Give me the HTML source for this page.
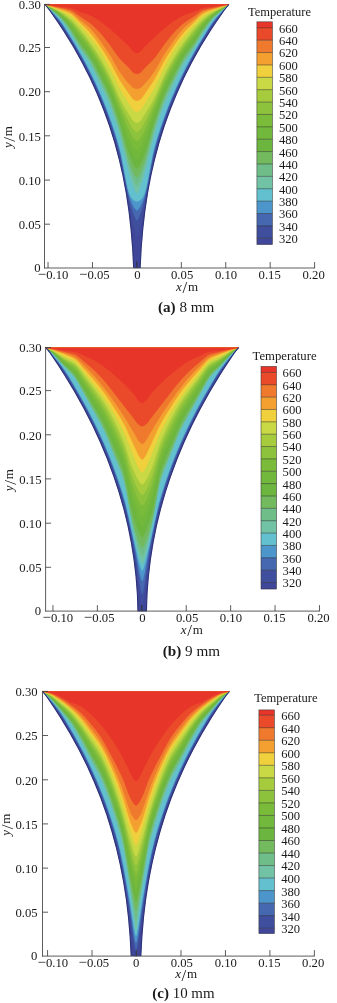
<!DOCTYPE html>
<html lang="en">
<head>
<meta charset="utf-8">
<title>Temperature contours</title>
<style>
html,body{margin:0;padding:0;background:#fff;}
body{width:337px;height:1003px;overflow:hidden;}
svg{display:block;}
svg text{font-family:'Liberation Serif', 'DejaVu Serif', serif;fill:#1a1a1a;}
</style>
</head>
<body>
<svg width="337" height="1003" viewBox="0 0 337 1003">
<rect width="337" height="1003" fill="#ffffff"/>
<g>
<path fill="#40479a" stroke="#40479a" stroke-width="0.3" d="M45.0 4.5L47.9 8.0L50.2 11.0L57.5 21.5L63.8 31.0L73.4 46.5L82.3 62.5L90.2 78.0L97.2 93.5L103.7 109.5L109.5 125.5L114.7 142.0L119.1 158.5L123.0 175.5L126.3 193.0L129.0 211.0L131.1 229.5L132.7 248.5L133.7 268.0L140.1 268.0L141.2 247.0L142.9 227.0L145.3 207.5L148.3 188.5L152.0 170.0L156.4 152.0L161.4 134.5L164.3 125.5L167.3 117.0L173.0 102.0L179.5 87.0L186.3 72.5L193.9 58.0L202.2 43.5L211.3 29.0L217.0 20.5L223.6 11.0L225.9 8.0L228.8 4.5Z"/>
<path fill="#3f4f9e" stroke="#3f4f9e" stroke-width="0.3" d="M45.0 4.5L48.5 8.5L58.0 20.6L61.0 24.7L67.0 33.9L76.0 48.8L84.0 63.2L91.0 77.1L97.5 91.1L103.5 105.6L108.0 117.5L112.5 130.7L116.0 142.0L119.0 152.9L120.5 159.0L122.0 166.0L128.5 201.2L132.9 222.6L135.1 231.6L136.3 235.1L136.7 235.9L136.9 236.0L137.1 235.9L137.5 235.1L138.7 231.6L140.9 222.6L145.3 201.2L151.8 166.0L153.3 159.0L154.8 152.9L157.8 142.0L161.3 130.7L165.8 117.5L170.3 105.6L176.3 91.1L182.8 77.1L189.8 63.2L197.8 48.8L206.8 33.9L212.8 24.7L215.8 20.6L225.3 8.5L228.8 4.5Z"/>
<path fill="#4568b0" stroke="#4568b0" stroke-width="0.3" d="M45.0 4.5L48.5 8.3L60.0 21.9L64.5 28.5L72.0 40.6L79.5 53.3L87.0 67.2L94.0 81.5L100.0 94.9L104.5 105.8L108.5 116.4L113.0 129.5L116.5 140.6L119.0 149.5L121.0 157.6L123.0 167.5L127.0 189.0L129.5 200.5L131.9 208.9L133.7 214.3L135.3 218.1L136.3 220.0L136.9 220.5L137.5 220.0L138.5 218.1L140.1 214.3L141.9 208.9L144.3 200.5L146.8 189.0L150.8 167.5L152.8 157.6L154.8 149.5L157.3 140.6L160.8 129.5L165.3 116.4L169.3 105.8L173.8 94.9L179.8 81.5L186.8 67.2L194.3 53.3L201.8 40.6L209.3 28.5L213.8 21.9L225.3 8.3L228.8 4.5Z"/>
<path fill="#4d96cc" stroke="#4d96cc" stroke-width="0.3" d="M45.0 4.5L48.5 8.0L59.0 19.8L62.0 23.8L65.5 29.1L75.5 45.4L83.5 59.5L91.0 74.0L98.0 88.9L103.5 101.8L108.5 114.7L113.5 129.1L117.5 142.0L121.0 155.3L127.0 186.6L128.5 193.3L129.7 197.6L131.5 202.3L133.3 206.1L134.3 207.8L135.7 209.6L136.3 210.2L136.9 210.5L137.5 210.2L138.1 209.6L139.5 207.8L140.5 206.1L142.3 202.3L144.1 197.6L145.3 193.3L146.8 186.6L152.8 155.3L156.3 142.0L160.3 129.1L165.3 114.7L170.3 101.8L175.8 88.9L182.8 74.0L190.3 59.5L198.3 45.4L208.3 29.1L211.8 23.8L214.8 19.8L225.3 8.0L228.8 4.5Z"/>
<path fill="#62c0cf" stroke="#62c0cf" stroke-width="0.3" d="M45.0 4.5L49.0 8.2L57.5 17.3L60.5 20.9L64.0 26.0L74.0 42.0L81.5 55.0L88.5 68.0L95.5 82.3L101.5 95.8L107.0 109.4L112.0 123.2L116.5 137.0L119.5 147.4L121.0 153.4L126.5 182.4L128.0 189.2L129.3 193.6L130.7 196.7L132.3 199.0L134.9 200.9L135.9 201.3L136.9 201.5L137.9 201.3L138.9 200.9L141.5 199.0L143.1 196.7L144.5 193.6L145.8 189.2L147.3 182.4L152.8 153.4L154.3 147.4L157.3 137.0L161.8 123.2L166.8 109.4L172.3 95.8L178.3 82.3L185.3 68.0L192.3 55.0L199.8 42.0L209.8 26.0L213.3 20.9L216.3 17.3L224.8 8.2L228.8 4.5Z"/>
<path fill="#72c2a6" stroke="#72c2a6" stroke-width="0.3" d="M45.0 4.5L48.5 7.4L58.5 16.5L61.0 19.2L64.0 23.1L71.0 33.5L80.5 49.5L89.0 62.1L92.0 67.4L95.0 73.3L107.0 98.4L110.0 105.5L112.5 112.2L116.5 124.4L120.5 137.9L122.5 145.6L127.5 166.3L129.9 175.2L132.5 183.7L134.1 188.4L136.1 192.6L136.5 193.2L136.9 193.5L137.3 193.2L137.7 192.6L139.7 188.4L141.3 183.7L143.9 175.2L146.3 166.3L151.3 145.6L153.3 137.9L157.3 124.4L161.3 112.2L163.8 105.5L166.8 98.4L178.8 73.3L181.8 67.4L184.8 62.1L193.3 49.5L202.8 33.5L209.8 23.1L212.8 19.2L215.3 16.5L225.3 7.4L228.8 4.5Z"/>
<path fill="#6fbe8a" stroke="#6fbe8a" stroke-width="0.3" d="M45.0 4.5L48.5 7.2L58.5 15.9L61.5 19.0L64.5 22.7L71.0 31.9L80.5 47.7L89.0 59.8L91.5 64.0L94.5 69.6L106.5 94.1L109.5 101.0L112.0 107.4L116.0 119.0L120.5 133.6L127.5 161.1L129.7 168.8L132.3 176.6L133.9 180.7L135.9 184.5L136.5 185.3L136.9 185.6L137.3 185.3L137.9 184.5L139.9 180.7L141.5 176.6L144.1 168.8L146.3 161.1L153.3 133.6L157.8 119.0L161.8 107.4L164.3 101.0L167.3 94.1L179.3 69.6L182.3 64.0L184.8 59.8L193.3 47.7L202.8 31.9L209.3 22.7L212.3 19.0L215.3 15.9L225.3 7.2L228.8 4.5Z"/>
<path fill="#73ba5e" stroke="#73ba5e" stroke-width="0.3" d="M45.0 4.5L48.5 7.0L58.5 15.2L61.5 18.1L65.0 22.2L71.0 30.4L78.0 42.0L80.5 45.9L89.0 57.5L91.5 61.5L94.0 66.0L105.5 88.8L108.5 95.4L111.5 102.7L115.5 113.8L120.5 129.3L127.0 154.1L129.5 162.5L131.9 169.0L133.7 173.2L134.7 175.0L135.9 176.8L136.5 177.4L136.9 177.6L137.3 177.4L137.9 176.8L139.1 175.0L140.1 173.2L141.9 169.0L144.3 162.5L146.8 154.1L153.3 129.3L158.3 113.8L162.3 102.7L165.3 95.4L168.3 88.8L179.8 66.0L182.3 61.5L184.8 57.5L193.3 45.9L195.8 42.0L202.8 30.4L208.8 22.2L212.3 18.1L215.3 15.2L225.3 7.0L228.8 4.5Z"/>
<path fill="#6cb53e" stroke="#6cb53e" stroke-width="0.3" d="M45.0 4.5L48.5 6.9L58.5 14.4L62.0 17.7L66.0 22.1L71.5 29.2L80.0 42.5L89.0 54.7L93.5 62.1L104.5 83.2L107.5 89.4L110.5 96.3L115.0 108.2L120.5 124.4L127.0 146.9L129.5 154.6L131.9 160.7L133.5 164.2L134.5 165.9L135.7 167.5L136.3 168.2L136.9 168.5L137.5 168.2L138.1 167.5L139.3 165.9L140.3 164.2L141.9 160.7L144.3 154.6L146.8 146.9L153.3 124.4L158.8 108.2L163.3 96.3L166.3 89.4L169.3 83.2L180.3 62.1L184.8 54.7L193.8 42.5L202.3 29.2L207.8 22.1L211.8 17.7L215.3 14.4L225.3 6.9L228.8 4.5Z"/>
<path fill="#72b83c" stroke="#72b83c" stroke-width="0.3" d="M45.0 4.5L49.0 7.0L59.0 14.1L62.5 17.2L66.5 21.3L70.0 25.4L72.0 28.0L80.0 39.8L88.5 51.2L92.5 57.4L96.5 64.4L103.0 76.6L107.0 84.6L110.0 91.2L114.0 101.3L120.5 119.4L127.0 139.7L129.3 146.1L131.9 152.3L133.3 155.2L134.5 157.1L135.5 158.3L136.3 159.1L136.9 159.3L137.5 159.1L138.3 158.3L139.3 157.1L140.5 155.2L141.9 152.3L144.5 146.1L146.8 139.7L153.3 119.4L159.8 101.3L163.8 91.2L166.8 84.6L170.8 76.6L177.3 64.4L181.3 57.4L185.3 51.2L193.8 39.8L201.8 28.0L203.8 25.4L207.3 21.3L211.3 17.2L214.8 14.1L224.8 7.0L228.8 4.5Z"/>
<path fill="#7abb3a" stroke="#7abb3a" stroke-width="0.3" d="M45.0 4.5L49.0 6.8L59.0 13.3L63.0 16.6L67.5 21.0L70.5 24.3L73.0 27.4L79.5 36.5L87.5 47.0L92.0 53.7L96.0 60.3L101.0 69.3L105.0 76.9L108.5 84.1L111.0 89.7L114.0 97.2L121.0 115.7L127.0 132.5L129.3 138.3L131.9 144.0L133.3 146.6L135.5 149.3L136.3 150.0L136.9 150.2L137.5 150.0L138.3 149.3L140.5 146.6L141.9 144.0L144.5 138.3L146.8 132.5L152.8 115.7L159.8 97.2L162.8 89.7L165.3 84.1L168.8 76.9L172.8 69.3L177.8 60.3L181.8 53.7L186.3 47.0L194.3 36.5L200.8 27.4L203.3 24.3L206.3 21.0L210.8 16.6L214.8 13.3L224.8 6.8L228.8 4.5Z"/>
<path fill="#8dc23c" stroke="#8dc23c" stroke-width="0.3" d="M45.0 4.5L49.0 6.6L59.0 12.5L63.5 15.9L68.0 20.0L71.0 23.0L74.0 26.6L86.0 42.2L90.5 48.5L95.0 55.5L100.0 64.1L104.5 72.3L108.5 80.4L112.5 89.4L118.5 104.6L126.5 124.2L128.9 129.6L131.5 134.9L132.9 137.4L134.1 139.0L135.9 140.7L136.9 141.1L137.9 140.7L139.7 139.0L140.9 137.4L142.3 134.9L144.9 129.6L147.3 124.2L155.3 104.6L161.3 89.4L165.3 80.4L169.3 72.3L173.8 64.1L178.8 55.5L183.3 48.5L187.8 42.2L199.8 26.6L202.8 23.0L205.8 20.0L210.3 15.9L214.8 12.5L224.8 6.6L228.8 4.5Z"/>
<path fill="#a6cc3e" stroke="#a6cc3e" stroke-width="0.3" d="M45.0 4.5L49.0 6.4L59.0 11.7L63.5 14.8L68.0 18.4L71.5 21.7L75.0 25.6L83.0 35.5L88.5 42.8L93.0 49.4L97.5 56.4L102.0 64.1L106.0 71.6L111.0 81.9L118.5 100.0L122.5 108.8L127.0 118.1L131.5 126.6L132.9 128.9L134.1 130.2L135.7 131.5L136.9 131.9L138.1 131.5L139.7 130.2L140.9 128.9L142.3 126.6L146.8 118.1L151.3 108.8L155.3 100.0L162.8 81.9L167.8 71.6L171.8 64.1L176.3 56.4L180.8 49.4L185.3 42.8L190.8 35.5L198.8 25.6L202.3 21.7L205.8 18.4L210.3 14.8L214.8 11.7L224.8 6.4L228.8 4.5Z"/>
<path fill="#c9d845" stroke="#c9d845" stroke-width="0.3" d="M45.0 4.5L49.0 6.2L58.5 10.7L63.0 13.3L67.0 16.1L70.5 18.9L74.0 22.3L80.0 29.1L84.0 34.0L89.5 41.4L95.0 49.3L99.0 55.5L103.0 62.4L106.5 68.9L110.5 76.9L119.5 97.5L122.5 103.2L126.0 109.3L132.7 120.1L133.3 120.8L135.1 122.2L136.1 122.7L136.9 122.8L137.7 122.7L138.7 122.2L140.5 120.8L141.1 120.1L147.8 109.3L151.3 103.2L154.3 97.5L163.3 76.9L167.3 68.9L170.8 62.4L174.8 55.5L178.8 49.3L184.3 41.4L189.8 34.0L193.8 29.1L199.8 22.3L203.3 18.9L206.8 16.1L210.8 13.3L215.3 10.7L224.8 6.2L228.8 4.5Z"/>
<path fill="#f0d03c" stroke="#f0d03c" stroke-width="0.3" d="M45.0 4.5L49.0 5.9L59.0 9.9L65.5 12.9L69.5 15.2L72.0 17.0L74.5 19.4L81.5 26.9L85.5 31.4L90.0 36.9L94.5 42.7L98.0 47.6L101.5 53.0L105.5 60.0L110.5 69.4L117.5 84.1L120.0 89.0L124.0 95.7L131.9 108.2L132.9 109.5L134.5 110.8L135.7 111.5L136.9 111.8L138.1 111.5L139.3 110.8L140.9 109.5L141.9 108.2L149.8 95.7L153.8 89.0L156.3 84.1L163.3 69.4L168.3 60.0L172.3 53.0L175.8 47.6L179.3 42.7L183.8 36.9L188.3 31.4L192.3 26.9L199.3 19.4L201.8 17.0L204.3 15.2L208.3 12.9L214.8 9.9L224.8 5.9L228.8 4.5Z"/>
<path fill="#f4a030" stroke="#f4a030" stroke-width="0.3" d="M45.0 4.5L49.5 5.8L65.5 11.2L68.0 12.2L70.5 13.5L72.0 14.5L74.0 16.3L79.5 22.0L87.5 29.8L91.0 33.7L94.5 38.1L99.0 44.3L103.0 50.2L107.0 56.5L110.5 62.4L117.5 75.8L120.0 80.3L123.5 85.7L131.7 97.6L132.7 98.8L134.3 99.9L135.7 100.6L136.9 100.8L138.1 100.6L139.5 99.9L141.1 98.8L142.1 97.6L150.3 85.7L153.8 80.3L156.3 75.8L163.3 62.4L166.8 56.5L170.8 50.2L174.8 44.3L179.3 38.1L182.8 33.7L186.3 29.8L194.3 22.0L199.8 16.3L201.8 14.5L203.3 13.5L205.8 12.2L208.3 11.2L224.3 5.8L228.8 4.5Z"/>
<path fill="#ef7a2e" stroke="#ef7a2e" stroke-width="0.3" d="M45.0 4.5L55.0 6.9L64.5 9.5L68.0 10.7L70.5 11.7L73.5 13.8L79.5 19.3L86.0 24.4L89.0 26.9L91.5 29.5L94.5 33.0L100.5 41.0L104.0 45.9L110.5 55.8L119.0 70.7L124.0 77.7L127.5 82.0L132.1 87.0L132.9 87.6L134.7 88.4L135.9 88.8L136.9 88.9L137.9 88.8L139.1 88.4L140.9 87.6L141.7 87.0L146.3 82.0L149.8 77.7L154.8 70.7L163.3 55.8L169.8 45.9L173.3 41.0L179.3 33.0L182.3 29.5L184.8 26.9L187.8 24.4L194.3 19.3L200.3 13.8L203.3 11.7L205.8 10.7L209.3 9.5L218.8 6.9L228.8 4.5Z"/>
<path fill="#ea4a2a" stroke="#ea4a2a" stroke-width="0.3" d="M45.0 4.5L66.0 8.7L70.5 9.9L72.0 10.6L74.0 11.8L79.5 15.9L88.5 21.9L91.5 24.3L95.0 27.5L99.0 31.6L102.5 35.5L110.0 44.9L118.0 56.4L121.5 60.6L129.1 68.0L132.5 72.0L134.9 73.4L135.9 73.8L136.9 73.9L137.9 73.8L138.9 73.4L141.3 72.0L144.7 68.0L152.3 60.6L155.8 56.4L163.8 44.9L171.3 35.5L174.8 31.6L178.8 27.5L182.3 24.3L185.3 21.9L194.3 15.9L199.8 11.8L201.8 10.6L203.3 9.9L207.8 8.7L228.8 4.5Z"/>
<path fill="#e8352a" stroke="#e8352a" stroke-width="0.3" d="M45.0 4.5L60.0 6.5L67.5 7.3L71.0 7.9L73.5 8.8L80.0 11.7L89.0 14.8L92.5 16.4L96.0 18.4L100.5 21.3L107.5 26.7L114.5 32.7L126.0 43.2L130.1 47.5L132.7 51.0L135.1 52.5L136.1 52.9L136.9 53.0L137.7 52.9L138.7 52.5L141.1 51.0L143.7 47.5L147.8 43.2L159.3 32.7L166.3 26.7L173.3 21.3L177.8 18.4L181.3 16.4L184.8 14.8L193.8 11.7L200.3 8.8L202.8 7.9L206.3 7.3L213.8 6.5L228.8 4.5Z"/>
<path fill="none" stroke="#2b3178" stroke-width="1.1" stroke-linejoin="round" d="M45.0 4.5L47.9 8.0L50.2 11.0L57.5 21.5L63.8 31.0L73.4 46.5L82.3 62.5L90.2 78.0L97.2 93.5L103.7 109.5L109.5 125.5L114.7 142.0L119.1 158.5L123.0 175.5L126.3 193.0L129.0 211.0L131.1 229.5L132.7 248.5L133.7 268.0"/>
<path fill="none" stroke="#2b3178" stroke-width="1.1" stroke-linejoin="round" d="M140.1 268.0L141.1 248.5L142.7 229.5L144.8 211.0L147.5 193.0L150.8 175.5L154.7 158.5L159.1 142.0L164.3 125.5L170.1 109.5L176.6 93.5L183.6 78.0L191.5 62.5L200.4 46.5L210.0 31.0L216.3 21.5L223.6 11.0L225.9 8.0L228.8 4.5"/>
<line x1="136.7" y1="261.5" x2="136.7" y2="267.5" stroke="#1c2050" stroke-width="0.9"/>
<line x1="44.50" y1="4.00" x2="44.50" y2="268.40" stroke="#404040" stroke-width="0.85"/>
<line x1="44.10" y1="268.00" x2="315.02" y2="268.00" stroke="#404040" stroke-width="0.85"/>
<line x1="44.50" y1="4.40" x2="50.00" y2="4.40" stroke="#404040" stroke-width="0.85"/>
<text x="40.90" y="9.10" font-size="12.7" text-anchor="end">0.30</text>
<line x1="44.50" y1="47.50" x2="50.00" y2="47.50" stroke="#404040" stroke-width="0.85"/>
<text x="40.90" y="52.20" font-size="12.7" text-anchor="end">0.25</text>
<line x1="44.50" y1="91.70" x2="50.00" y2="91.70" stroke="#404040" stroke-width="0.85"/>
<text x="40.90" y="96.40" font-size="12.7" text-anchor="end">0.20</text>
<line x1="44.50" y1="135.80" x2="50.00" y2="135.80" stroke="#404040" stroke-width="0.85"/>
<text x="40.90" y="140.50" font-size="12.7" text-anchor="end">0.15</text>
<line x1="44.50" y1="180.10" x2="50.00" y2="180.10" stroke="#404040" stroke-width="0.85"/>
<text x="40.90" y="184.80" font-size="12.7" text-anchor="end">0.10</text>
<line x1="44.50" y1="224.20" x2="50.00" y2="224.20" stroke="#404040" stroke-width="0.85"/>
<text x="40.90" y="228.90" font-size="12.7" text-anchor="end">0.05</text>
<text x="40.50" y="272.10" font-size="12.7" text-anchor="end">0</text>
<line x1="48.04" y1="268.00" x2="48.04" y2="262.00" stroke="#404040" stroke-width="0.85"/>
<text x="53.04" y="278.70" font-size="12.7" text-anchor="middle"><tspan font-size="15">−</tspan>0.10</text>
<line x1="92.47" y1="268.00" x2="92.47" y2="262.00" stroke="#404040" stroke-width="0.85"/>
<text x="94.27" y="278.70" font-size="12.7" text-anchor="middle"><tspan font-size="15">−</tspan>0.05</text>
<line x1="136.90" y1="268.00" x2="136.90" y2="262.00" stroke="#404040" stroke-width="0.85"/>
<text x="137.40" y="278.70" font-size="12.7" text-anchor="middle">0</text>
<line x1="181.33" y1="268.00" x2="181.33" y2="262.00" stroke="#404040" stroke-width="0.85"/>
<text x="182.13" y="278.70" font-size="12.7" text-anchor="middle">0.05</text>
<line x1="225.76" y1="268.00" x2="225.76" y2="262.00" stroke="#404040" stroke-width="0.85"/>
<text x="226.06" y="278.70" font-size="12.7" text-anchor="middle">0.10</text>
<line x1="270.19" y1="268.00" x2="270.19" y2="262.00" stroke="#404040" stroke-width="0.85"/>
<text x="269.69" y="278.70" font-size="12.7" text-anchor="middle">0.15</text>
<line x1="314.62" y1="268.00" x2="314.62" y2="262.00" stroke="#404040" stroke-width="0.85"/>
<text x="313.62" y="278.70" font-size="12.7" text-anchor="middle">0.20</text>
<text x="176.00" y="290.90" font-size="13"><tspan font-style="italic">x</tspan><tspan font-size="17" dx="0.6" dy="2.4">/</tspan><tspan dx="0.8" dy="-2.4">m</tspan></text>
<text transform="translate(11.90 137.10) rotate(-90)" font-size="13" text-anchor="middle"><tspan font-style="italic">y</tspan><tspan font-size="17" dx="0.6" dy="2.8">/</tspan><tspan dx="0.8" dy="-2.8">m</tspan></text>
<text x="186.20" y="312.20" font-size="15" text-anchor="middle" textLength="56.5" lengthAdjust="spacingAndGlyphs"><tspan font-weight="bold">(a)</tspan> 8 mm</text>
<rect x="256.90" y="21.80" width="15.50" height="6.30" fill="#e8352a"/>
<rect x="256.90" y="27.80" width="15.50" height="12.68" fill="#ea4a2a"/>
<rect x="256.90" y="40.18" width="15.50" height="12.68" fill="#ef7a2e"/>
<rect x="256.90" y="52.56" width="15.50" height="12.68" fill="#f4a030"/>
<rect x="256.90" y="64.94" width="15.50" height="12.68" fill="#f0d03c"/>
<rect x="256.90" y="77.32" width="15.50" height="12.68" fill="#c9d845"/>
<rect x="256.90" y="89.70" width="15.50" height="12.68" fill="#a6cc3e"/>
<rect x="256.90" y="102.08" width="15.50" height="12.68" fill="#8dc23c"/>
<rect x="256.90" y="114.46" width="15.50" height="12.68" fill="#7abb3a"/>
<rect x="256.90" y="126.84" width="15.50" height="12.68" fill="#72b83c"/>
<rect x="256.90" y="139.22" width="15.50" height="12.68" fill="#6cb53e"/>
<rect x="256.90" y="151.60" width="15.50" height="12.68" fill="#73ba5e"/>
<rect x="256.90" y="163.98" width="15.50" height="12.68" fill="#6fbe8a"/>
<rect x="256.90" y="176.36" width="15.50" height="12.68" fill="#72c2a6"/>
<rect x="256.90" y="188.74" width="15.50" height="12.68" fill="#62c0cf"/>
<rect x="256.90" y="201.12" width="15.50" height="12.68" fill="#4d96cc"/>
<rect x="256.90" y="213.50" width="15.50" height="12.68" fill="#4568b0"/>
<rect x="256.90" y="225.88" width="15.50" height="12.68" fill="#3f4f9e"/>
<rect x="256.90" y="238.26" width="15.50" height="6.34" fill="#40479a"/>
<line x1="256.90" y1="27.80" x2="272.40" y2="27.80" stroke="#2a2a2a" stroke-opacity="0.7" stroke-width="0.7"/>
<line x1="256.90" y1="40.18" x2="272.40" y2="40.18" stroke="#2a2a2a" stroke-opacity="0.7" stroke-width="0.7"/>
<line x1="256.90" y1="52.56" x2="272.40" y2="52.56" stroke="#2a2a2a" stroke-opacity="0.7" stroke-width="0.7"/>
<line x1="256.90" y1="64.94" x2="272.40" y2="64.94" stroke="#2a2a2a" stroke-opacity="0.7" stroke-width="0.7"/>
<line x1="256.90" y1="77.32" x2="272.40" y2="77.32" stroke="#2a2a2a" stroke-opacity="0.7" stroke-width="0.7"/>
<line x1="256.90" y1="89.70" x2="272.40" y2="89.70" stroke="#2a2a2a" stroke-opacity="0.7" stroke-width="0.7"/>
<line x1="256.90" y1="102.08" x2="272.40" y2="102.08" stroke="#2a2a2a" stroke-opacity="0.7" stroke-width="0.7"/>
<line x1="256.90" y1="114.46" x2="272.40" y2="114.46" stroke="#2a2a2a" stroke-opacity="0.7" stroke-width="0.7"/>
<line x1="256.90" y1="126.84" x2="272.40" y2="126.84" stroke="#2a2a2a" stroke-opacity="0.7" stroke-width="0.7"/>
<line x1="256.90" y1="139.22" x2="272.40" y2="139.22" stroke="#2a2a2a" stroke-opacity="0.7" stroke-width="0.7"/>
<line x1="256.90" y1="151.60" x2="272.40" y2="151.60" stroke="#2a2a2a" stroke-opacity="0.7" stroke-width="0.7"/>
<line x1="256.90" y1="163.98" x2="272.40" y2="163.98" stroke="#2a2a2a" stroke-opacity="0.7" stroke-width="0.7"/>
<line x1="256.90" y1="176.36" x2="272.40" y2="176.36" stroke="#2a2a2a" stroke-opacity="0.7" stroke-width="0.7"/>
<line x1="256.90" y1="188.74" x2="272.40" y2="188.74" stroke="#2a2a2a" stroke-opacity="0.7" stroke-width="0.7"/>
<line x1="256.90" y1="201.12" x2="272.40" y2="201.12" stroke="#2a2a2a" stroke-opacity="0.7" stroke-width="0.7"/>
<line x1="256.90" y1="213.50" x2="272.40" y2="213.50" stroke="#2a2a2a" stroke-opacity="0.7" stroke-width="0.7"/>
<line x1="256.90" y1="225.88" x2="272.40" y2="225.88" stroke="#2a2a2a" stroke-opacity="0.7" stroke-width="0.7"/>
<line x1="256.90" y1="238.26" x2="272.40" y2="238.26" stroke="#2a2a2a" stroke-opacity="0.7" stroke-width="0.7"/>
<rect x="256.90" y="21.80" width="15.50" height="222.50" fill="none" stroke="#333" stroke-opacity="0.75" stroke-width="0.7"/>
<text x="248.00" y="15.90" font-size="12.6" textLength="63.0" lengthAdjust="spacingAndGlyphs">Temperature</text>
<text x="279.00" y="32.70" font-size="12.6">660</text>
<text x="279.00" y="45.08" font-size="12.6">640</text>
<text x="279.00" y="57.46" font-size="12.6">620</text>
<text x="279.00" y="69.84" font-size="12.6">600</text>
<text x="279.00" y="82.22" font-size="12.6">580</text>
<text x="279.00" y="94.60" font-size="12.6">560</text>
<text x="279.00" y="106.98" font-size="12.6">540</text>
<text x="279.00" y="119.36" font-size="12.6">520</text>
<text x="279.00" y="131.74" font-size="12.6">500</text>
<text x="279.00" y="144.12" font-size="12.6">480</text>
<text x="279.00" y="156.50" font-size="12.6">460</text>
<text x="279.00" y="168.88" font-size="12.6">440</text>
<text x="279.00" y="181.26" font-size="12.6">420</text>
<text x="279.00" y="193.64" font-size="12.6">400</text>
<text x="279.00" y="206.02" font-size="12.6">380</text>
<text x="279.00" y="218.40" font-size="12.6">360</text>
<text x="279.00" y="230.78" font-size="12.6">340</text>
<text x="279.00" y="243.16" font-size="12.6">320</text>
</g>
<g>
<path fill="#40479a" stroke="#40479a" stroke-width="0.3" d="M45.8 347.7L48.4 350.7L50.7 353.7L58.1 364.7L64.5 374.7L74.8 391.7L84.5 409.2L92.9 425.7L100.5 442.2L107.4 458.7L113.7 475.7L119.1 492.2L124.0 509.2L128.0 525.7L131.4 542.7L134.1 559.7L136.1 576.7L137.4 593.7L138.0 611.2L146.4 611.2L146.6 601.7L147.1 592.2L147.7 583.2L148.6 573.7L149.7 564.7L151.0 555.2L152.4 546.2L154.2 536.7L156.1 527.2L158.2 518.2L162.9 500.2L165.7 490.7L168.6 481.7L171.8 472.7L175.1 463.7L181.3 448.2L188.0 433.2L195.2 418.2L203.1 403.2L212.3 387.2L222.1 371.2L234.1 353.2L236.0 350.7L238.6 347.7Z"/>
<path fill="#3f4f9e" stroke="#3f4f9e" stroke-width="0.3" d="M45.8 347.7L48.3 350.4L50.3 352.9L59.8 365.9L64.3 372.4L71.3 383.6L81.3 400.9L90.3 417.9L98.3 434.4L104.8 449.2L111.8 466.8L117.3 482.4L121.8 496.6L125.3 509.4L128.8 524.4L131.8 539.1L135.0 557.1L136.2 565.4L139.8 594.5L141.4 603.5L141.8 605.2L142.2 606.0L142.6 605.2L143.0 603.5L144.6 594.5L148.2 565.4L149.4 557.1L152.6 539.1L155.6 524.4L159.1 509.4L162.6 496.6L167.1 482.4L172.6 466.8L179.6 449.2L186.1 434.4L194.1 417.9L203.1 400.9L213.1 383.6L220.1 372.4L224.6 365.9L234.1 352.9L236.1 350.4L238.6 347.7Z"/>
<path fill="#4568b0" stroke="#4568b0" stroke-width="0.3" d="M45.8 347.7L48.3 350.2L50.3 352.6L59.8 364.8L63.8 370.3L69.3 378.7L78.8 394.9L87.8 411.3L95.8 427.2L103.3 443.6L110.3 460.5L114.8 472.6L120.3 488.8L123.8 500.5L127.3 514.0L130.8 529.6L134.4 547.9L136.0 557.3L139.8 584.1L141.4 592.0L141.8 593.5L142.2 594.2L142.6 593.5L143.0 592.0L144.6 584.1L148.4 557.3L150.0 547.9L153.6 529.6L157.1 514.0L160.6 500.5L164.1 488.8L169.6 472.6L174.1 460.5L181.1 443.6L188.6 427.2L196.6 411.3L205.6 394.9L215.1 378.7L220.6 370.3L224.6 364.8L234.1 352.6L236.1 350.2L238.6 347.7Z"/>
<path fill="#4d96cc" stroke="#4d96cc" stroke-width="0.3" d="M45.8 347.7L48.3 350.1L50.8 352.9L57.8 361.5L62.3 367.3L67.8 375.3L75.3 387.8L84.3 403.6L92.8 419.9L100.8 436.6L107.8 452.8L112.8 465.5L117.8 479.4L121.8 491.7L125.3 503.8L128.8 518.3L132.8 536.9L135.6 550.5L139.8 573.2L141.6 579.9L142.0 580.9L142.2 581.0L142.4 580.9L142.8 579.9L144.6 573.2L148.8 550.5L151.6 536.9L155.6 518.3L159.1 503.8L162.6 491.7L166.6 479.4L171.6 465.5L176.6 452.8L183.6 436.6L191.6 419.9L200.1 403.6L209.1 387.8L216.6 375.3L222.1 367.3L226.6 361.5L233.6 352.9L236.1 350.1L238.6 347.7Z"/>
<path fill="#62c0cf" stroke="#62c0cf" stroke-width="0.3" d="M45.8 347.7L48.3 349.9L50.8 352.4L58.3 361.3L64.8 370.0L69.8 377.7L80.8 396.5L89.3 412.1L97.3 428.1L104.8 444.5L109.8 456.5L114.3 468.2L119.3 482.4L123.3 495.0L125.3 502.0L127.3 510.0L133.3 537.2L138.8 561.1L140.6 567.3L141.6 570.0L142.2 570.8L142.8 570.0L143.8 567.3L145.6 561.1L151.1 537.2L157.1 510.0L159.1 502.0L161.1 495.0L165.1 482.4L170.1 468.2L174.6 456.5L179.6 444.5L187.1 428.1L195.1 412.1L203.6 396.5L214.6 377.7L219.6 370.0L226.1 361.3L233.6 352.4L236.1 349.9L238.6 347.7Z"/>
<path fill="#72c2a6" stroke="#72c2a6" stroke-width="0.3" d="M45.8 347.7L49.3 350.5L53.3 354.4L64.3 367.0L72.3 375.0L75.8 379.3L77.8 382.4L79.8 385.9L100.3 423.5L103.3 429.3L105.8 434.6L108.8 441.7L115.3 458.7L120.8 472.4L122.8 478.0L124.8 484.5L126.3 490.6L127.8 498.1L132.8 527.3L134.8 537.6L137.6 550.1L139.2 556.5L140.8 561.6L141.8 564.1L142.2 564.5L142.6 564.1L143.6 561.6L145.2 556.5L146.8 550.1L149.6 537.6L151.6 527.3L156.6 498.1L158.1 490.6L159.6 484.5L161.6 478.0L163.6 472.4L169.1 458.7L175.6 441.7L178.6 434.6L181.1 429.3L184.1 423.5L204.6 385.9L206.6 382.4L208.6 379.3L212.1 375.0L220.1 367.0L231.1 354.4L235.1 350.5L238.6 347.7Z"/>
<path fill="#6fbe8a" stroke="#6fbe8a" stroke-width="0.3" d="M45.8 347.7L49.8 350.8L53.8 354.6L64.3 366.3L71.8 373.6L73.8 375.9L75.3 377.8L78.8 383.4L99.3 420.3L102.3 425.8L104.8 431.0L107.8 437.9L114.8 455.6L119.8 467.6L121.8 472.9L123.8 479.1L125.3 484.9L126.3 489.5L131.8 519.8L134.2 531.2L136.8 541.4L138.8 548.4L140.6 553.3L141.6 555.6L142.2 556.2L142.8 555.6L143.8 553.3L145.6 548.4L147.6 541.4L150.2 531.2L152.6 519.8L158.1 489.5L159.1 484.9L160.6 479.1L162.6 472.9L164.6 467.6L169.6 455.6L176.6 437.9L179.6 431.0L182.1 425.8L185.1 420.3L205.6 383.4L209.1 377.8L210.6 375.9L212.6 373.6L220.1 366.3L230.6 354.6L234.6 350.8L238.6 347.7Z"/>
<path fill="#73ba5e" stroke="#73ba5e" stroke-width="0.3" d="M45.8 347.7L49.8 350.6L53.8 354.2L63.8 365.1L71.3 372.3L74.8 376.3L77.8 381.0L83.3 390.9L98.8 417.9L103.8 427.4L106.8 434.1L113.8 451.4L119.3 464.2L121.3 469.4L122.8 473.8L124.3 479.1L125.8 485.8L130.8 513.2L133.3 524.6L136.0 533.7L138.2 540.2L140.4 545.2L141.6 547.5L142.2 548.0L142.8 547.5L144.0 545.2L146.2 540.2L148.4 533.7L151.1 524.6L153.6 513.2L158.6 485.8L160.1 479.1L161.6 473.8L163.1 469.4L165.1 464.2L170.6 451.4L177.6 434.1L180.6 427.4L185.6 417.9L201.1 390.9L206.6 381.0L209.6 376.3L213.1 372.3L220.6 365.1L230.6 354.2L234.6 350.6L238.6 347.7Z"/>
<path fill="#6cb53e" stroke="#6cb53e" stroke-width="0.3" d="M45.8 347.7L49.8 350.4L53.8 353.7L64.3 364.4L72.3 371.4L75.3 374.8L78.3 379.4L83.3 388.1L98.3 413.2L103.3 422.2L107.3 430.7L113.8 446.1L118.8 457.5L122.3 466.5L123.8 471.2L125.3 477.1L130.8 504.8L133.3 515.4L136.0 524.1L138.2 530.1L140.4 534.9L141.6 536.9L142.2 537.4L142.8 536.9L144.0 534.9L146.2 530.1L148.4 524.1L151.1 515.4L153.6 504.8L159.1 477.1L160.6 471.2L162.1 466.5L165.6 457.5L170.6 446.1L177.1 430.7L181.1 422.2L186.1 413.2L201.1 388.1L206.1 379.4L209.1 374.8L212.1 371.4L220.1 364.4L230.6 353.7L234.6 350.4L238.6 347.7Z"/>
<path fill="#72b83c" stroke="#72b83c" stroke-width="0.3" d="M45.8 347.7L49.8 350.2L53.8 353.2L63.8 362.7L71.8 369.1L73.8 371.0L75.3 372.6L78.8 377.7L83.3 385.3L98.8 410.2L103.3 418.0L106.3 424.0L109.3 430.5L118.8 452.0L122.3 460.8L123.8 465.3L125.3 470.8L130.8 496.4L133.3 506.3L136.0 514.4L138.2 520.1L140.4 524.5L141.6 526.4L142.2 526.8L142.8 526.4L144.0 524.5L146.2 520.1L148.4 514.4L151.1 506.3L153.6 496.4L159.1 470.8L160.6 465.3L162.1 460.8L165.6 452.0L175.1 430.5L178.1 424.0L181.1 418.0L185.6 410.2L201.1 385.3L205.6 377.7L209.1 372.6L210.6 371.0L212.6 369.1L220.6 362.7L230.6 353.2L234.6 350.2L238.6 347.7Z"/>
<path fill="#7abb3a" stroke="#7abb3a" stroke-width="0.3" d="M45.8 347.7L49.8 349.9L53.8 352.8L64.3 361.9L71.8 367.3L73.8 368.9L75.3 370.5L76.8 372.3L78.8 375.2L83.8 383.2L98.8 406.4L102.8 412.9L105.8 418.5L109.8 426.8L118.3 445.3L121.8 453.7L123.8 459.3L125.3 464.5L130.8 488.0L133.3 497.1L136.0 504.7L138.2 510.0L140.6 514.4L141.6 515.9L142.2 516.2L142.8 515.9L143.8 514.4L146.2 510.0L148.4 504.7L151.1 497.1L153.6 488.0L159.1 464.5L160.6 459.3L162.6 453.7L166.1 445.3L174.6 426.8L178.6 418.5L181.6 412.9L185.6 406.4L200.6 383.2L205.6 375.2L207.6 372.3L209.1 370.5L210.6 368.9L212.6 367.3L220.1 361.9L230.6 352.8L234.6 349.9L238.6 347.7Z"/>
<path fill="#8dc23c" stroke="#8dc23c" stroke-width="0.3" d="M45.8 347.7L49.8 349.7L53.8 352.3L63.8 360.2L66.3 362.0L72.3 365.8L74.3 367.3L75.8 368.8L77.3 370.6L79.3 373.4L83.8 380.4L98.3 401.8L102.3 408.0L105.8 414.1L109.8 421.9L117.8 438.7L121.3 446.8L123.8 453.4L125.3 458.1L130.8 479.6L133.3 487.9L136.0 495.0L138.2 500.0L139.4 502.2L140.8 504.3L141.6 505.3L142.2 505.7L142.8 505.3L143.6 504.3L145.0 502.2L146.2 500.0L148.4 495.0L151.1 487.9L153.6 479.6L159.1 458.1L160.6 453.4L163.1 446.8L166.6 438.7L174.6 421.9L178.6 414.1L182.1 408.0L186.1 401.8L200.6 380.4L205.1 373.4L207.1 370.6L208.6 368.8L210.1 367.3L212.1 365.8L218.1 362.0L220.6 360.2L230.6 352.3L234.6 349.7L238.6 347.7Z"/>
<path fill="#a6cc3e" stroke="#a6cc3e" stroke-width="0.3" d="M45.8 347.7L49.8 349.5L53.3 351.5L64.3 359.4L72.3 363.9L74.3 365.3L75.8 366.6L77.3 368.2L79.3 370.9L83.8 377.5L92.8 390.1L101.8 403.1L105.8 409.6L109.8 417.0L115.8 429.0L119.8 437.6L122.8 444.8L124.8 450.3L126.8 456.9L130.8 471.3L133.3 478.8L136.0 485.3L138.2 489.9L139.4 491.9L141.0 494.1L141.6 494.8L142.2 495.1L142.8 494.8L143.4 494.1L145.0 491.9L146.2 489.9L148.4 485.3L151.1 478.8L153.6 471.3L157.6 456.9L159.6 450.3L161.6 444.8L164.6 437.6L168.6 429.0L174.6 417.0L178.6 409.6L182.6 403.1L191.6 390.1L200.6 377.5L205.1 370.9L207.1 368.2L208.6 366.6L210.1 365.3L212.1 363.9L220.1 359.4L231.1 351.5L234.6 349.5L238.6 347.7Z"/>
<path fill="#c9d845" stroke="#c9d845" stroke-width="0.3" d="M45.8 347.7L49.8 349.3L53.3 351.1L64.3 358.1L66.8 359.4L72.3 362.0L74.3 363.2L75.8 364.4L77.3 365.9L79.3 368.4L84.3 375.4L92.3 385.9L100.8 397.6L104.8 403.6L108.8 410.3L113.3 418.6L117.8 427.7L121.8 436.6L124.8 444.1L130.8 462.9L133.3 469.6L136.0 475.7L138.2 479.8L139.4 481.7L141.0 483.7L141.6 484.3L142.2 484.5L142.8 484.3L143.4 483.7L145.0 481.7L146.2 479.8L148.4 475.7L151.1 469.6L153.6 462.9L159.6 444.1L162.6 436.6L166.6 427.7L171.1 418.6L175.6 410.3L179.6 403.6L183.6 397.6L192.1 385.9L200.1 375.4L205.1 368.4L207.1 365.9L208.6 364.4L210.1 363.2L212.1 362.0L217.6 359.4L220.1 358.1L231.1 351.1L234.6 349.3L238.6 347.7Z"/>
<path fill="#f0d03c" stroke="#f0d03c" stroke-width="0.3" d="M45.8 347.7L49.8 349.1L53.3 350.5L64.3 356.4L71.8 359.5L73.8 360.5L75.3 361.5L76.8 362.9L78.8 365.2L99.3 391.4L103.8 397.5L108.8 405.0L114.3 414.2L119.8 424.1L123.3 431.0L125.8 436.4L132.8 454.3L138.0 466.5L140.0 470.2L141.4 472.0L142.2 472.5L143.0 472.0L144.4 470.2L146.4 466.5L151.6 454.3L158.6 436.4L161.1 431.0L164.6 424.1L170.1 414.2L175.6 405.0L180.6 397.5L185.1 391.4L205.6 365.2L207.6 362.9L209.1 361.5L210.6 360.5L212.6 359.5L220.1 356.4L231.1 350.5L234.6 349.1L238.6 347.7Z"/>
<path fill="#f4a030" stroke="#f4a030" stroke-width="0.3" d="M45.8 347.7L50.3 349.0L62.3 353.3L70.8 356.7L74.8 358.8L76.3 360.0L78.3 362.0L83.8 368.5L92.3 377.9L99.8 387.0L105.3 394.3L110.3 401.8L119.8 416.8L123.3 422.8L126.3 428.5L133.3 444.0L138.4 454.9L139.4 456.6L140.8 458.4L141.6 459.2L142.2 459.4L142.8 459.2L143.6 458.4L145.0 456.6L146.0 454.9L151.1 444.0L158.1 428.5L161.1 422.8L164.6 416.8L174.1 401.8L179.1 394.3L184.6 387.0L192.1 377.9L200.6 368.5L206.1 362.0L208.1 360.0L209.6 358.8L213.6 356.7L222.1 353.3L234.1 349.0L238.6 347.7Z"/>
<path fill="#ef7a2e" stroke="#ef7a2e" stroke-width="0.3" d="M45.8 347.7L50.3 348.7L56.3 350.4L71.3 355.4L73.8 356.5L75.8 357.7L77.8 359.3L79.8 361.2L89.3 370.7L94.3 376.0L99.8 382.4L106.3 390.7L115.3 403.3L123.3 415.3L129.3 425.0L135.0 434.6L138.4 440.6L139.2 441.7L140.8 443.2L141.6 443.8L142.2 443.9L142.8 443.8L143.6 443.2L145.2 441.7L146.0 440.6L149.4 434.6L155.1 425.0L161.1 415.3L169.1 403.3L178.1 390.7L184.6 382.4L190.1 376.0L195.1 370.7L204.6 361.2L206.6 359.3L208.6 357.7L210.6 356.5L213.1 355.4L228.1 350.4L234.1 348.7L238.6 347.7Z"/>
<path fill="#ea4a2a" stroke="#ea4a2a" stroke-width="0.3" d="M45.8 347.7L53.3 349.1L72.3 353.7L75.8 355.0L78.8 357.0L92.8 368.9L96.8 372.7L101.3 377.4L105.3 382.0L108.8 386.3L133.8 418.6L137.0 423.0L138.0 424.1L140.0 425.5L141.2 426.1L142.2 426.3L143.2 426.1L144.4 425.5L146.4 424.1L147.4 423.0L150.6 418.6L175.6 386.3L179.1 382.0L183.1 377.4L187.6 372.7L191.6 368.9L205.6 357.0L208.6 355.0L212.1 353.7L231.1 349.1L238.6 347.7Z"/>
<path fill="#e8352a" stroke="#e8352a" stroke-width="0.3" d="M45.8 347.7L53.3 348.7L64.3 350.6L72.8 351.4L75.8 351.9L78.8 353.0L84.3 355.8L92.3 359.2L95.8 360.9L99.8 363.6L108.3 370.0L113.3 374.0L117.8 377.9L124.3 384.0L131.8 391.7L135.2 395.8L137.4 399.3L138.4 400.6L140.6 402.3L141.4 402.7L142.2 402.8L143.0 402.7L143.8 402.3L146.0 400.6L147.0 399.3L149.2 395.8L152.6 391.7L160.1 384.0L166.6 377.9L171.1 374.0L176.1 370.0L184.6 363.6L188.6 360.9L192.1 359.2L200.1 355.8L205.6 353.0L208.6 351.9L211.6 351.4L220.1 350.6L231.1 348.7L238.6 347.7Z"/>
<path fill="none" stroke="#2b3178" stroke-width="1.1" stroke-linejoin="round" d="M45.8 347.7L48.4 350.7L50.7 353.7L58.1 364.7L64.5 374.7L74.8 391.7L84.5 409.2L92.9 425.7L100.5 442.2L107.4 458.7L113.7 475.7L119.1 492.2L124.0 509.2L128.0 525.7L131.4 542.7L134.1 559.7L136.1 576.7L137.4 593.7L138.0 611.2"/>
<path fill="none" stroke="#2b3178" stroke-width="1.1" stroke-linejoin="round" d="M146.4 611.2L147.0 593.7L148.3 576.7L150.3 559.7L153.0 542.7L156.4 525.7L160.4 509.2L165.3 492.2L170.7 475.7L177.0 458.7L183.9 442.2L191.5 425.7L199.9 409.2L209.6 391.7L219.9 374.7L226.3 364.7L233.7 353.7L236.0 350.7L238.6 347.7"/>
<line x1="141.7" y1="605.0" x2="141.7" y2="610.8" stroke="#1c2050" stroke-width="0.9"/>
<line x1="45.60" y1="347.10" x2="45.60" y2="611.50" stroke="#404040" stroke-width="0.85"/>
<line x1="45.20" y1="611.10" x2="319.88" y2="611.10" stroke="#404040" stroke-width="0.85"/>
<line x1="45.60" y1="347.50" x2="51.10" y2="347.50" stroke="#404040" stroke-width="0.85"/>
<text x="41.50" y="352.20" font-size="12.7" text-anchor="end">0.30</text>
<line x1="45.60" y1="390.60" x2="51.10" y2="390.60" stroke="#404040" stroke-width="0.85"/>
<text x="41.50" y="395.30" font-size="12.7" text-anchor="end">0.25</text>
<line x1="45.60" y1="434.80" x2="51.10" y2="434.80" stroke="#404040" stroke-width="0.85"/>
<text x="41.50" y="439.50" font-size="12.7" text-anchor="end">0.20</text>
<line x1="45.60" y1="478.90" x2="51.10" y2="478.90" stroke="#404040" stroke-width="0.85"/>
<text x="41.50" y="483.60" font-size="12.7" text-anchor="end">0.15</text>
<line x1="45.60" y1="523.20" x2="51.10" y2="523.20" stroke="#404040" stroke-width="0.85"/>
<text x="41.50" y="527.90" font-size="12.7" text-anchor="end">0.10</text>
<line x1="45.60" y1="567.30" x2="51.10" y2="567.30" stroke="#404040" stroke-width="0.85"/>
<text x="41.50" y="572.00" font-size="12.7" text-anchor="end">0.05</text>
<text x="41.10" y="615.20" font-size="12.7" text-anchor="end">0</text>
<line x1="52.96" y1="611.10" x2="52.96" y2="605.10" stroke="#404040" stroke-width="0.85"/>
<text x="57.76" y="621.80" font-size="12.7" text-anchor="middle"><tspan font-size="15">−</tspan>0.10</text>
<line x1="97.38" y1="611.10" x2="97.38" y2="605.10" stroke="#404040" stroke-width="0.85"/>
<text x="99.18" y="621.80" font-size="12.7" text-anchor="middle"><tspan font-size="15">−</tspan>0.05</text>
<line x1="141.80" y1="611.10" x2="141.80" y2="605.10" stroke="#404040" stroke-width="0.85"/>
<text x="142.30" y="621.80" font-size="12.7" text-anchor="middle">0</text>
<line x1="186.22" y1="611.10" x2="186.22" y2="605.10" stroke="#404040" stroke-width="0.85"/>
<text x="187.12" y="621.80" font-size="12.7" text-anchor="middle">0.05</text>
<line x1="230.64" y1="611.10" x2="230.64" y2="605.10" stroke="#404040" stroke-width="0.85"/>
<text x="230.94" y="621.80" font-size="12.7" text-anchor="middle">0.10</text>
<line x1="275.06" y1="611.10" x2="275.06" y2="605.10" stroke="#404040" stroke-width="0.85"/>
<text x="274.56" y="621.80" font-size="12.7" text-anchor="middle">0.15</text>
<line x1="319.48" y1="611.10" x2="319.48" y2="605.10" stroke="#404040" stroke-width="0.85"/>
<text x="318.48" y="621.80" font-size="12.7" text-anchor="middle">0.20</text>
<text x="180.80" y="633.80" font-size="13"><tspan font-style="italic">x</tspan><tspan font-size="17" dx="0.6" dy="2.4">/</tspan><tspan dx="0.8" dy="-2.4">m</tspan></text>
<text transform="translate(13.00 480.20) rotate(-90)" font-size="13" text-anchor="middle"><tspan font-style="italic">y</tspan><tspan font-size="17" dx="0.6" dy="2.8">/</tspan><tspan dx="0.8" dy="-2.8">m</tspan></text>
<text x="191.40" y="655.60" font-size="15" text-anchor="middle" textLength="57.4" lengthAdjust="spacingAndGlyphs"><tspan font-weight="bold">(b)</tspan> 9 mm</text>
<rect x="261.00" y="366.40" width="15.50" height="6.30" fill="#e8352a"/>
<rect x="261.00" y="372.40" width="15.50" height="12.66" fill="#ea4a2a"/>
<rect x="261.00" y="384.76" width="15.50" height="12.66" fill="#ef7a2e"/>
<rect x="261.00" y="397.12" width="15.50" height="12.66" fill="#f4a030"/>
<rect x="261.00" y="409.48" width="15.50" height="12.66" fill="#f0d03c"/>
<rect x="261.00" y="421.84" width="15.50" height="12.66" fill="#c9d845"/>
<rect x="261.00" y="434.20" width="15.50" height="12.66" fill="#a6cc3e"/>
<rect x="261.00" y="446.56" width="15.50" height="12.66" fill="#8dc23c"/>
<rect x="261.00" y="458.92" width="15.50" height="12.66" fill="#7abb3a"/>
<rect x="261.00" y="471.28" width="15.50" height="12.66" fill="#72b83c"/>
<rect x="261.00" y="483.64" width="15.50" height="12.66" fill="#6cb53e"/>
<rect x="261.00" y="496.00" width="15.50" height="12.66" fill="#73ba5e"/>
<rect x="261.00" y="508.36" width="15.50" height="12.66" fill="#6fbe8a"/>
<rect x="261.00" y="520.72" width="15.50" height="12.66" fill="#72c2a6"/>
<rect x="261.00" y="533.08" width="15.50" height="12.66" fill="#62c0cf"/>
<rect x="261.00" y="545.44" width="15.50" height="12.66" fill="#4d96cc"/>
<rect x="261.00" y="557.80" width="15.50" height="12.66" fill="#4568b0"/>
<rect x="261.00" y="570.16" width="15.50" height="12.66" fill="#3f4f9e"/>
<rect x="261.00" y="582.52" width="15.50" height="6.68" fill="#40479a"/>
<line x1="261.00" y1="372.40" x2="276.50" y2="372.40" stroke="#2a2a2a" stroke-opacity="0.7" stroke-width="0.7"/>
<line x1="261.00" y1="384.76" x2="276.50" y2="384.76" stroke="#2a2a2a" stroke-opacity="0.7" stroke-width="0.7"/>
<line x1="261.00" y1="397.12" x2="276.50" y2="397.12" stroke="#2a2a2a" stroke-opacity="0.7" stroke-width="0.7"/>
<line x1="261.00" y1="409.48" x2="276.50" y2="409.48" stroke="#2a2a2a" stroke-opacity="0.7" stroke-width="0.7"/>
<line x1="261.00" y1="421.84" x2="276.50" y2="421.84" stroke="#2a2a2a" stroke-opacity="0.7" stroke-width="0.7"/>
<line x1="261.00" y1="434.20" x2="276.50" y2="434.20" stroke="#2a2a2a" stroke-opacity="0.7" stroke-width="0.7"/>
<line x1="261.00" y1="446.56" x2="276.50" y2="446.56" stroke="#2a2a2a" stroke-opacity="0.7" stroke-width="0.7"/>
<line x1="261.00" y1="458.92" x2="276.50" y2="458.92" stroke="#2a2a2a" stroke-opacity="0.7" stroke-width="0.7"/>
<line x1="261.00" y1="471.28" x2="276.50" y2="471.28" stroke="#2a2a2a" stroke-opacity="0.7" stroke-width="0.7"/>
<line x1="261.00" y1="483.64" x2="276.50" y2="483.64" stroke="#2a2a2a" stroke-opacity="0.7" stroke-width="0.7"/>
<line x1="261.00" y1="496.00" x2="276.50" y2="496.00" stroke="#2a2a2a" stroke-opacity="0.7" stroke-width="0.7"/>
<line x1="261.00" y1="508.36" x2="276.50" y2="508.36" stroke="#2a2a2a" stroke-opacity="0.7" stroke-width="0.7"/>
<line x1="261.00" y1="520.72" x2="276.50" y2="520.72" stroke="#2a2a2a" stroke-opacity="0.7" stroke-width="0.7"/>
<line x1="261.00" y1="533.08" x2="276.50" y2="533.08" stroke="#2a2a2a" stroke-opacity="0.7" stroke-width="0.7"/>
<line x1="261.00" y1="545.44" x2="276.50" y2="545.44" stroke="#2a2a2a" stroke-opacity="0.7" stroke-width="0.7"/>
<line x1="261.00" y1="557.80" x2="276.50" y2="557.80" stroke="#2a2a2a" stroke-opacity="0.7" stroke-width="0.7"/>
<line x1="261.00" y1="570.16" x2="276.50" y2="570.16" stroke="#2a2a2a" stroke-opacity="0.7" stroke-width="0.7"/>
<line x1="261.00" y1="582.52" x2="276.50" y2="582.52" stroke="#2a2a2a" stroke-opacity="0.7" stroke-width="0.7"/>
<rect x="261.00" y="366.40" width="15.50" height="222.50" fill="none" stroke="#333" stroke-opacity="0.75" stroke-width="0.7"/>
<text x="252.60" y="359.80" font-size="12.6" textLength="64.0" lengthAdjust="spacingAndGlyphs">Temperature</text>
<text x="282.60" y="377.30" font-size="12.6">660</text>
<text x="282.60" y="389.66" font-size="12.6">640</text>
<text x="282.60" y="402.02" font-size="12.6">620</text>
<text x="282.60" y="414.38" font-size="12.6">600</text>
<text x="282.60" y="426.74" font-size="12.6">580</text>
<text x="282.60" y="439.10" font-size="12.6">560</text>
<text x="282.60" y="451.46" font-size="12.6">540</text>
<text x="282.60" y="463.82" font-size="12.6">520</text>
<text x="282.60" y="476.18" font-size="12.6">500</text>
<text x="282.60" y="488.54" font-size="12.6">480</text>
<text x="282.60" y="500.90" font-size="12.6">460</text>
<text x="282.60" y="513.26" font-size="12.6">440</text>
<text x="282.60" y="525.62" font-size="12.6">420</text>
<text x="282.60" y="537.98" font-size="12.6">400</text>
<text x="282.60" y="550.34" font-size="12.6">380</text>
<text x="282.60" y="562.70" font-size="12.6">360</text>
<text x="282.60" y="575.06" font-size="12.6">340</text>
<text x="282.60" y="587.42" font-size="12.6">320</text>
</g>
<g>
<path fill="#40479a" stroke="#40479a" stroke-width="0.3" d="M42.6 691.5L45.1 694.5L47.4 697.5L54.5 708.0L60.9 718.0L70.5 734.0L79.3 750.0L87.3 766.0L94.4 782.0L100.9 798.0L106.8 814.5L111.9 831.0L116.4 847.5L120.3 864.5L123.7 882.0L126.5 900.0L128.6 918.0L130.2 937.0L131.2 956.0L140.8 956.0L142.0 935.0L143.8 914.5L146.3 894.5L149.6 875.0L153.6 856.0L158.2 837.5L161.0 828.0L163.8 819.0L166.8 810.0L170.0 801.0L175.7 786.5L182.0 772.0L188.9 757.5L196.2 743.5L204.4 729.0L213.3 714.5L224.6 697.5L226.9 694.5L229.4 691.5Z"/>
<path fill="#3f4f9e" stroke="#3f4f9e" stroke-width="0.3" d="M42.6 691.5L46.6 696.1L56.1 708.9L60.1 714.6L63.6 720.1L67.6 726.7L77.1 743.4L85.6 759.9L93.1 775.9L99.6 791.4L106.1 808.7L110.1 820.8L115.1 837.4L118.1 848.8L120.6 860.0L123.1 873.7L125.6 889.6L130.4 921.9L133.8 947.1L134.6 951.5L135.4 955.1L135.8 956.2L136.2 956.2L136.6 955.1L138.2 947.1L141.6 921.9L146.4 889.6L148.9 873.7L151.4 860.0L154.4 846.8L157.4 835.6L162.4 819.2L166.4 807.3L172.9 790.1L179.4 774.8L186.9 758.8L194.9 743.4L204.4 726.7L208.4 720.1L211.9 714.6L215.9 708.9L225.4 696.1L229.4 691.5Z"/>
<path fill="#4568b0" stroke="#4568b0" stroke-width="0.3" d="M42.6 691.5L46.6 695.9L56.6 708.4L60.1 713.2L65.6 721.8L75.6 739.0L84.6 756.0L92.1 771.7L99.1 787.9L105.6 804.8L110.1 818.0L115.1 834.2L118.1 845.3L121.1 858.3L124.6 877.0L128.6 901.7L130.6 914.9L134.0 941.1L135.4 948.3L135.8 949.6L136.0 949.8L136.2 949.6L136.6 948.3L138.0 941.1L141.4 914.9L143.4 901.7L147.4 877.0L150.9 858.3L153.9 845.3L156.9 834.2L161.9 818.0L166.4 804.8L172.9 787.9L179.9 771.7L187.4 756.0L196.4 739.0L206.4 721.8L211.9 713.2L215.4 708.4L225.4 695.9L229.4 691.5Z"/>
<path fill="#4d96cc" stroke="#4d96cc" stroke-width="0.3" d="M42.6 691.5L45.1 693.9L47.1 696.1L55.6 706.3L59.6 711.6L62.1 715.2L65.1 720.0L74.6 736.2L83.1 751.9L91.1 768.2L98.1 784.0L105.1 801.8L109.6 814.6L114.6 830.4L118.1 843.0L121.1 855.7L124.6 873.6L128.6 897.1L130.6 909.7L134.0 934.6L135.4 941.4L135.8 942.6L136.0 942.8L136.2 942.6L136.6 941.4L138.0 934.6L141.4 909.7L143.4 897.1L147.4 873.6L150.9 855.7L153.9 843.0L157.4 830.4L162.4 814.6L166.9 801.8L173.9 784.0L180.9 768.2L188.9 751.9L197.4 736.2L206.9 720.0L209.9 715.2L212.4 711.6L216.4 706.3L224.9 696.1L226.9 693.9L229.4 691.5Z"/>
<path fill="#62c0cf" stroke="#62c0cf" stroke-width="0.3" d="M42.6 691.5L45.6 694.2L48.6 697.4L54.6 704.4L59.1 710.1L64.1 717.6L73.1 732.7L81.6 748.1L89.6 764.0L97.1 780.5L104.1 797.8L109.1 811.7L114.1 827.1L117.6 839.3L120.6 851.3L123.6 865.7L127.1 885.0L130.4 904.2L134.0 928.3L135.4 934.5L135.8 935.6L136.0 935.8L136.2 935.6L136.6 934.5L138.0 928.3L141.6 904.2L144.9 885.0L148.4 865.7L151.4 851.3L154.4 839.3L157.9 827.1L162.9 811.7L167.9 797.8L174.9 780.5L182.4 764.0L190.4 748.1L198.9 732.7L207.9 717.6L212.9 710.1L217.4 704.4L223.4 697.4L226.4 694.2L229.4 691.5Z"/>
<path fill="#72c2a6" stroke="#72c2a6" stroke-width="0.3" d="M42.6 691.5L45.1 693.5L47.6 695.8L52.1 700.5L68.1 720.0L72.6 726.2L76.1 732.0L82.1 743.0L92.1 762.6L99.1 775.6L102.1 781.7L105.1 788.9L110.1 802.6L116.6 822.7L120.1 834.9L123.1 847.3L125.1 857.6L127.1 869.6L132.6 906.7L134.8 925.7L135.4 929.2L135.8 930.3L136.0 930.5L136.2 930.3L136.6 929.2L137.2 925.7L139.4 906.7L144.9 869.6L146.9 857.6L148.9 847.3L151.9 834.9L155.4 822.7L161.9 802.6L166.9 788.9L169.9 781.7L172.9 775.6L179.9 762.6L189.9 743.0L195.9 732.0L199.4 726.2L203.9 720.0L219.9 700.5L224.4 695.8L226.9 693.5L229.4 691.5Z"/>
<path fill="#6fbe8a" stroke="#6fbe8a" stroke-width="0.3" d="M42.6 691.5L47.6 695.5L52.1 700.0L67.6 718.3L70.1 721.5L72.6 725.0L77.1 732.4L84.1 744.9L92.1 760.4L99.6 774.2L102.1 779.4L104.6 785.2L109.6 798.5L115.6 816.5L119.6 829.8L122.6 841.6L124.6 851.2L126.6 862.8L132.6 900.8L134.8 916.4L135.4 919.2L135.8 920.1L136.0 920.2L136.2 920.1L136.6 919.2L137.2 916.4L139.4 900.8L145.4 862.8L147.4 851.2L149.4 841.6L152.4 829.8L156.4 816.5L162.4 798.5L167.4 785.2L169.9 779.4L172.4 774.2L179.9 760.4L187.9 744.9L194.9 732.4L199.4 725.0L201.9 721.5L204.4 718.3L219.9 700.0L224.4 695.5L229.4 691.5Z"/>
<path fill="#73ba5e" stroke="#73ba5e" stroke-width="0.3" d="M42.6 691.5L45.1 693.3L48.1 695.7L52.6 700.1L67.6 717.2L70.1 720.3L72.6 723.8L77.1 730.9L84.1 743.1L92.1 758.2L99.1 770.9L101.6 776.0L103.6 780.4L108.1 791.8L113.1 806.0L118.1 821.5L121.6 834.1L123.6 842.6L125.1 850.3L130.6 884.1L134.4 905.2L135.2 908.7L135.6 909.6L136.0 910.0L136.4 909.6L136.8 908.7L137.6 905.2L141.4 884.1L146.9 850.3L148.4 842.6L150.4 834.1L153.9 821.5L158.9 806.0L163.9 791.8L168.4 780.4L170.4 776.0L172.9 770.9L179.9 758.2L187.9 743.1L194.9 730.9L199.4 723.8L201.9 720.3L204.4 717.2L219.4 700.1L223.9 695.7L226.9 693.3L229.4 691.5Z"/>
<path fill="#6cb53e" stroke="#6cb53e" stroke-width="0.3" d="M42.6 691.5L45.1 693.1L48.1 695.4L52.6 699.5L67.6 715.9L70.1 718.9L72.6 722.2L77.1 729.0L83.6 739.8L92.1 755.3L98.6 766.8L101.1 771.6L103.1 775.8L107.6 786.8L112.6 800.7L117.6 815.8L121.6 829.8L123.6 838.0L125.1 845.4L130.4 875.8L134.2 895.6L135.2 899.8L135.6 900.7L136.0 901.0L136.4 900.7L136.8 899.8L137.8 895.6L141.6 875.8L146.9 845.4L148.4 838.0L150.4 829.8L154.4 815.8L159.4 800.7L164.4 786.8L168.9 775.8L170.9 771.6L173.4 766.8L179.9 755.3L188.4 739.8L194.9 729.0L199.4 722.2L201.9 718.9L204.4 715.9L219.4 699.5L223.9 695.4L226.9 693.1L229.4 691.5Z"/>
<path fill="#72b83c" stroke="#72b83c" stroke-width="0.3" d="M42.6 691.5L48.1 695.1L50.1 696.7L52.6 698.9L67.1 714.0L70.1 717.4L72.6 720.6L77.1 727.1L83.6 737.5L92.1 752.5L98.6 763.5L102.6 771.3L107.1 781.9L112.1 795.4L117.1 810.2L121.1 823.7L123.1 831.3L124.6 838.0L130.4 868.7L134.2 887.1L135.2 890.9L135.6 891.8L136.0 892.1L136.4 891.8L136.8 890.9L137.8 887.1L141.6 868.7L147.4 838.0L148.9 831.3L150.9 823.7L154.9 810.2L159.9 795.4L164.9 781.9L169.4 771.3L173.4 763.5L179.9 752.5L188.4 737.5L194.9 727.1L199.4 720.6L201.9 717.4L204.9 714.0L219.4 698.9L221.9 696.7L223.9 695.1L229.4 691.5Z"/>
<path fill="#7abb3a" stroke="#7abb3a" stroke-width="0.3" d="M42.6 691.5L48.1 694.8L50.1 696.2L52.6 698.4L66.6 712.2L69.6 715.4L72.1 718.3L77.1 725.2L83.1 734.3L92.1 749.6L98.1 759.5L102.1 766.9L106.1 775.8L110.6 787.5L115.6 801.7L120.1 816.0L122.6 824.9L124.1 831.0L130.2 860.7L134.2 878.6L135.2 882.1L135.6 882.8L136.0 883.1L136.4 882.8L136.8 882.1L137.8 878.6L141.8 860.7L147.9 831.0L149.4 824.9L151.9 816.0L156.4 801.7L161.4 787.5L165.9 775.8L169.9 766.9L173.9 759.5L179.9 749.6L188.9 734.3L194.9 725.2L199.9 718.3L202.4 715.4L205.4 712.2L219.4 698.4L221.9 696.2L223.9 694.8L229.4 691.5Z"/>
<path fill="#8dc23c" stroke="#8dc23c" stroke-width="0.3" d="M42.6 691.5L48.6 694.8L52.6 697.8L66.6 710.8L69.6 713.9L72.1 716.7L77.1 723.3L83.1 732.0L98.1 756.3L101.6 762.5L105.1 769.9L109.6 781.1L114.6 794.8L119.1 808.5L122.1 818.7L124.1 826.3L130.2 853.7L134.2 870.1L135.2 873.2L135.6 873.9L136.0 874.1L136.4 873.9L136.8 873.2L137.8 870.1L141.8 853.7L147.9 826.3L149.9 818.7L152.9 808.5L157.4 794.8L162.4 781.1L166.9 769.9L170.4 762.5L173.9 756.3L188.9 732.0L194.9 723.3L199.9 716.7L202.4 713.9L205.4 710.8L219.4 697.8L223.4 694.8L229.4 691.5Z"/>
<path fill="#a6cc3e" stroke="#a6cc3e" stroke-width="0.3" d="M42.6 691.5L48.6 694.4L52.6 697.2L66.1 709.1L69.1 712.0L72.1 715.2L77.1 721.4L83.1 729.7L97.6 752.3L101.6 759.1L105.1 766.4L108.6 774.8L113.6 788.0L117.6 799.7L121.1 810.9L123.6 819.7L129.8 845.2L134.0 860.8L135.0 863.9L135.6 864.9L136.0 865.2L136.4 864.9L137.0 863.9L138.0 860.8L142.2 845.2L148.4 819.7L150.9 810.9L154.4 799.7L158.4 788.0L163.4 774.8L166.9 766.4L170.4 759.1L174.4 752.3L188.9 729.7L194.9 721.4L199.9 715.2L202.9 712.0L205.9 709.1L219.4 697.2L223.4 694.4L229.4 691.5Z"/>
<path fill="#c9d845" stroke="#c9d845" stroke-width="0.3" d="M42.6 691.5L48.6 694.1L50.6 695.2L53.1 697.0L66.1 707.8L69.1 710.5L72.1 713.6L77.1 719.5L82.6 726.7L97.6 749.1L101.1 754.8L104.1 760.7L107.6 768.7L112.6 781.4L115.6 789.8L119.1 800.3L122.6 811.6L129.6 837.7L134.0 852.4L135.0 855.1L135.6 856.0L136.0 856.2L136.4 856.0L137.0 855.1L138.0 852.4L142.4 837.7L149.4 811.6L152.9 800.3L156.4 789.8L159.4 781.4L164.4 768.7L167.9 760.7L170.9 754.8L174.4 749.1L189.4 726.7L194.9 719.5L199.9 713.6L202.9 710.5L205.9 707.8L218.9 697.0L221.4 695.2L223.4 694.1L229.4 691.5Z"/>
<path fill="#f0d03c" stroke="#f0d03c" stroke-width="0.3" d="M42.6 691.5L49.1 693.9L51.6 695.2L54.1 696.8L60.6 701.5L64.6 704.6L68.6 708.0L72.6 711.8L78.1 717.7L83.1 723.8L96.6 743.1L100.1 748.5L103.1 753.9L106.6 761.1L111.1 771.5L115.1 781.7L118.6 791.5L122.6 803.5L129.6 827.7L134.2 842.4L135.2 844.8L135.6 845.3L136.0 845.5L136.4 845.3L136.8 844.8L137.8 842.4L142.4 827.7L149.4 803.5L153.4 791.5L156.9 781.7L160.9 771.5L165.4 761.1L168.9 753.9L171.9 748.5L175.4 743.1L188.9 723.8L193.9 717.7L199.4 711.8L203.4 708.0L207.4 704.6L211.4 701.5L217.9 696.8L220.4 695.2L222.9 693.9L229.4 691.5Z"/>
<path fill="#f4a030" stroke="#f4a030" stroke-width="0.3" d="M42.6 691.5L49.1 693.5L51.6 694.7L54.1 696.1L60.6 700.4L64.6 703.2L69.1 706.8L73.1 710.3L78.1 715.2L82.6 720.2L86.1 724.9L99.1 743.0L102.6 748.7L106.1 755.4L110.1 764.0L114.1 773.3L118.1 783.6L122.6 796.2L128.6 816.4L130.6 822.4L134.2 830.8L135.2 832.3L136.0 832.8L136.8 832.3L137.8 830.8L141.4 822.4L143.4 816.4L149.4 796.2L153.9 783.6L157.9 773.3L161.9 764.0L165.9 755.4L169.4 748.7L172.9 743.0L185.9 724.9L189.4 720.2L193.9 715.2L198.9 710.3L202.9 706.8L207.4 703.2L211.4 700.4L217.9 696.1L220.4 694.7L222.9 693.5L229.4 691.5Z"/>
<path fill="#ef7a2e" stroke="#ef7a2e" stroke-width="0.3" d="M42.6 691.5L49.6 693.2L52.1 694.2L54.6 695.5L60.1 698.9L63.1 700.9L72.6 708.3L78.1 713.1L82.6 717.7L86.6 722.6L96.6 735.8L100.1 740.8L103.6 746.6L107.6 754.2L112.1 763.6L117.1 775.1L122.6 788.9L128.2 806.1L130.4 812.1L131.6 814.6L134.0 818.6L135.0 819.7L136.0 820.2L137.0 819.7L138.0 818.6L140.4 814.6L141.6 812.1L143.8 806.1L149.4 788.9L154.9 775.1L159.9 763.6L164.4 754.2L168.4 746.6L171.9 740.8L175.4 735.8L185.4 722.6L189.4 717.7L193.9 713.1L199.4 708.3L208.9 700.9L211.9 698.9L217.4 695.5L219.9 694.2L222.4 693.2L229.4 691.5Z"/>
<path fill="#ea4a2a" stroke="#ea4a2a" stroke-width="0.3" d="M42.6 691.5L49.1 692.7L52.6 693.9L55.6 695.3L60.1 697.7L65.1 700.8L75.6 708.3L80.6 712.4L85.1 717.0L92.6 725.9L96.6 730.9L100.1 735.8L103.1 740.4L106.1 745.7L116.1 764.7L121.6 775.9L123.6 780.5L128.4 793.4L130.6 798.5L131.8 800.7L134.2 804.2L135.2 805.2L136.0 805.5L136.8 805.2L137.8 804.2L140.2 800.7L141.4 798.5L143.6 793.4L148.4 780.5L150.4 775.9L155.9 764.7L165.9 745.7L168.9 740.4L171.9 735.8L175.4 730.9L179.4 725.9L186.9 717.0L191.4 712.4L196.4 708.3L206.9 700.8L211.9 697.7L216.4 695.3L219.4 693.9L222.9 692.7L229.4 691.5Z"/>
<path fill="#e8352a" stroke="#e8352a" stroke-width="0.3" d="M42.6 691.5L49.6 692.4L53.1 693.4L61.1 697.0L69.6 701.8L79.6 705.5L82.1 706.9L84.6 708.7L93.1 716.1L98.1 721.3L102.6 726.6L107.1 732.7L114.6 743.6L118.6 749.9L122.1 756.1L130.2 772.2L132.8 777.7L133.4 778.7L134.8 780.3L135.4 780.8L136.0 781.0L136.6 780.8L137.2 780.3L138.6 778.7L139.2 777.7L141.8 772.2L149.9 756.1L153.4 749.9L157.4 743.6L164.9 732.7L169.4 726.6L173.9 721.3L178.9 716.1L187.4 708.7L189.9 706.9L192.4 705.5L202.4 701.8L210.9 697.0L218.9 693.4L222.4 692.4L229.4 691.5Z"/>
<path fill="none" stroke="#2b3178" stroke-width="1.1" stroke-linejoin="round" d="M42.6 691.5L45.1 694.5L47.4 697.5L54.5 708.0L60.9 718.0L70.5 734.0L79.3 750.0L87.3 766.0L94.4 782.0L100.9 798.0L106.8 814.5L111.9 831.0L116.4 847.5L120.3 864.5L123.7 882.0L126.5 900.0L128.6 918.0L130.2 937.0L131.2 956.0"/>
<path fill="none" stroke="#2b3178" stroke-width="1.1" stroke-linejoin="round" d="M140.8 956.0L141.8 937.0L143.4 918.0L145.5 900.0L148.3 882.0L151.7 864.5L155.6 847.5L160.1 831.0L165.2 814.5L171.1 798.0L177.6 782.0L184.7 766.0L192.7 750.0L201.5 734.0L211.1 718.0L217.5 708.0L224.6 697.5L226.9 694.5L229.4 691.5"/>
<line x1="136.2" y1="951.0" x2="136.2" y2="955.8" stroke="#1c2050" stroke-width="0.9"/>
<line x1="42.50" y1="691.00" x2="42.50" y2="956.50" stroke="#404040" stroke-width="0.85"/>
<line x1="42.10" y1="956.10" x2="314.78" y2="956.10" stroke="#404040" stroke-width="0.85"/>
<line x1="42.50" y1="691.40" x2="48.00" y2="691.40" stroke="#404040" stroke-width="0.85"/>
<text x="37.70" y="696.10" font-size="12.7" text-anchor="end">0.30</text>
<line x1="42.50" y1="735.50" x2="48.00" y2="735.50" stroke="#404040" stroke-width="0.85"/>
<text x="37.70" y="740.20" font-size="12.7" text-anchor="end">0.25</text>
<line x1="42.50" y1="779.80" x2="48.00" y2="779.80" stroke="#404040" stroke-width="0.85"/>
<text x="37.70" y="784.50" font-size="12.7" text-anchor="end">0.20</text>
<line x1="42.50" y1="823.90" x2="48.00" y2="823.90" stroke="#404040" stroke-width="0.85"/>
<text x="37.70" y="828.60" font-size="12.7" text-anchor="end">0.15</text>
<line x1="42.50" y1="868.10" x2="48.00" y2="868.10" stroke="#404040" stroke-width="0.85"/>
<text x="37.70" y="872.80" font-size="12.7" text-anchor="end">0.10</text>
<line x1="42.50" y1="912.20" x2="48.00" y2="912.20" stroke="#404040" stroke-width="0.85"/>
<text x="37.70" y="916.90" font-size="12.7" text-anchor="end">0.05</text>
<text x="37.30" y="960.20" font-size="12.7" text-anchor="end">0</text>
<line x1="47.56" y1="956.10" x2="47.56" y2="950.10" stroke="#404040" stroke-width="0.85"/>
<text x="52.76" y="966.80" font-size="12.7" text-anchor="middle"><tspan font-size="15">−</tspan>0.10</text>
<line x1="92.03" y1="956.10" x2="92.03" y2="950.10" stroke="#404040" stroke-width="0.85"/>
<text x="93.83" y="966.80" font-size="12.7" text-anchor="middle"><tspan font-size="15">−</tspan>0.05</text>
<line x1="136.50" y1="956.10" x2="136.50" y2="950.10" stroke="#404040" stroke-width="0.85"/>
<text x="136.20" y="966.80" font-size="12.7" text-anchor="middle">0</text>
<line x1="180.97" y1="956.10" x2="180.97" y2="950.10" stroke="#404040" stroke-width="0.85"/>
<text x="181.77" y="966.80" font-size="12.7" text-anchor="middle">0.05</text>
<line x1="225.44" y1="956.10" x2="225.44" y2="950.10" stroke="#404040" stroke-width="0.85"/>
<text x="225.74" y="966.80" font-size="12.7" text-anchor="middle">0.10</text>
<line x1="269.91" y1="956.10" x2="269.91" y2="950.10" stroke="#404040" stroke-width="0.85"/>
<text x="269.41" y="966.80" font-size="12.7" text-anchor="middle">0.15</text>
<line x1="314.38" y1="956.10" x2="314.38" y2="950.10" stroke="#404040" stroke-width="0.85"/>
<text x="313.18" y="966.80" font-size="12.7" text-anchor="middle">0.20</text>
<text x="175.20" y="978.20" font-size="13"><tspan font-style="italic">x</tspan><tspan font-size="17" dx="0.6" dy="2.4">/</tspan><tspan dx="0.8" dy="-2.4">m</tspan></text>
<text transform="translate(9.90 824.65) rotate(-90)" font-size="13" text-anchor="middle"><tspan font-style="italic">y</tspan><tspan font-size="17" dx="0.6" dy="2.8">/</tspan><tspan dx="0.8" dy="-2.8">m</tspan></text>
<text x="183.50" y="997.60" font-size="15" text-anchor="middle" textLength="62.3" lengthAdjust="spacingAndGlyphs"><tspan font-weight="bold">(c)</tspan> 10 mm</text>
<rect x="258.90" y="709.90" width="15.50" height="5.60" fill="#e8352a"/>
<rect x="258.90" y="715.20" width="15.50" height="12.83" fill="#ea4a2a"/>
<rect x="258.90" y="727.73" width="15.50" height="12.83" fill="#ef7a2e"/>
<rect x="258.90" y="740.26" width="15.50" height="12.83" fill="#f4a030"/>
<rect x="258.90" y="752.79" width="15.50" height="12.83" fill="#f0d03c"/>
<rect x="258.90" y="765.32" width="15.50" height="12.83" fill="#c9d845"/>
<rect x="258.90" y="777.85" width="15.50" height="12.83" fill="#a6cc3e"/>
<rect x="258.90" y="790.38" width="15.50" height="12.83" fill="#8dc23c"/>
<rect x="258.90" y="802.91" width="15.50" height="12.83" fill="#7abb3a"/>
<rect x="258.90" y="815.44" width="15.50" height="12.83" fill="#72b83c"/>
<rect x="258.90" y="827.97" width="15.50" height="12.83" fill="#6cb53e"/>
<rect x="258.90" y="840.50" width="15.50" height="12.83" fill="#73ba5e"/>
<rect x="258.90" y="853.03" width="15.50" height="12.83" fill="#6fbe8a"/>
<rect x="258.90" y="865.56" width="15.50" height="12.83" fill="#72c2a6"/>
<rect x="258.90" y="878.09" width="15.50" height="12.83" fill="#62c0cf"/>
<rect x="258.90" y="890.62" width="15.50" height="12.83" fill="#4d96cc"/>
<rect x="258.90" y="903.15" width="15.50" height="12.83" fill="#4568b0"/>
<rect x="258.90" y="915.68" width="15.50" height="12.83" fill="#3f4f9e"/>
<rect x="258.90" y="928.21" width="15.50" height="5.39" fill="#40479a"/>
<line x1="258.90" y1="715.20" x2="274.40" y2="715.20" stroke="#2a2a2a" stroke-opacity="0.7" stroke-width="0.7"/>
<line x1="258.90" y1="727.73" x2="274.40" y2="727.73" stroke="#2a2a2a" stroke-opacity="0.7" stroke-width="0.7"/>
<line x1="258.90" y1="740.26" x2="274.40" y2="740.26" stroke="#2a2a2a" stroke-opacity="0.7" stroke-width="0.7"/>
<line x1="258.90" y1="752.79" x2="274.40" y2="752.79" stroke="#2a2a2a" stroke-opacity="0.7" stroke-width="0.7"/>
<line x1="258.90" y1="765.32" x2="274.40" y2="765.32" stroke="#2a2a2a" stroke-opacity="0.7" stroke-width="0.7"/>
<line x1="258.90" y1="777.85" x2="274.40" y2="777.85" stroke="#2a2a2a" stroke-opacity="0.7" stroke-width="0.7"/>
<line x1="258.90" y1="790.38" x2="274.40" y2="790.38" stroke="#2a2a2a" stroke-opacity="0.7" stroke-width="0.7"/>
<line x1="258.90" y1="802.91" x2="274.40" y2="802.91" stroke="#2a2a2a" stroke-opacity="0.7" stroke-width="0.7"/>
<line x1="258.90" y1="815.44" x2="274.40" y2="815.44" stroke="#2a2a2a" stroke-opacity="0.7" stroke-width="0.7"/>
<line x1="258.90" y1="827.97" x2="274.40" y2="827.97" stroke="#2a2a2a" stroke-opacity="0.7" stroke-width="0.7"/>
<line x1="258.90" y1="840.50" x2="274.40" y2="840.50" stroke="#2a2a2a" stroke-opacity="0.7" stroke-width="0.7"/>
<line x1="258.90" y1="853.03" x2="274.40" y2="853.03" stroke="#2a2a2a" stroke-opacity="0.7" stroke-width="0.7"/>
<line x1="258.90" y1="865.56" x2="274.40" y2="865.56" stroke="#2a2a2a" stroke-opacity="0.7" stroke-width="0.7"/>
<line x1="258.90" y1="878.09" x2="274.40" y2="878.09" stroke="#2a2a2a" stroke-opacity="0.7" stroke-width="0.7"/>
<line x1="258.90" y1="890.62" x2="274.40" y2="890.62" stroke="#2a2a2a" stroke-opacity="0.7" stroke-width="0.7"/>
<line x1="258.90" y1="903.15" x2="274.40" y2="903.15" stroke="#2a2a2a" stroke-opacity="0.7" stroke-width="0.7"/>
<line x1="258.90" y1="915.68" x2="274.40" y2="915.68" stroke="#2a2a2a" stroke-opacity="0.7" stroke-width="0.7"/>
<line x1="258.90" y1="928.21" x2="274.40" y2="928.21" stroke="#2a2a2a" stroke-opacity="0.7" stroke-width="0.7"/>
<rect x="258.90" y="709.90" width="15.50" height="223.40" fill="none" stroke="#333" stroke-opacity="0.75" stroke-width="0.7"/>
<text x="254.20" y="701.50" font-size="12.6" textLength="63.4" lengthAdjust="spacingAndGlyphs">Temperature</text>
<text x="281.20" y="720.10" font-size="12.6">660</text>
<text x="281.20" y="732.63" font-size="12.6">640</text>
<text x="281.20" y="745.16" font-size="12.6">620</text>
<text x="281.20" y="757.69" font-size="12.6">600</text>
<text x="281.20" y="770.22" font-size="12.6">580</text>
<text x="281.20" y="782.75" font-size="12.6">560</text>
<text x="281.20" y="795.28" font-size="12.6">540</text>
<text x="281.20" y="807.81" font-size="12.6">520</text>
<text x="281.20" y="820.34" font-size="12.6">500</text>
<text x="281.20" y="832.87" font-size="12.6">480</text>
<text x="281.20" y="845.40" font-size="12.6">460</text>
<text x="281.20" y="857.93" font-size="12.6">440</text>
<text x="281.20" y="870.46" font-size="12.6">420</text>
<text x="281.20" y="882.99" font-size="12.6">400</text>
<text x="281.20" y="895.52" font-size="12.6">380</text>
<text x="281.20" y="908.05" font-size="12.6">360</text>
<text x="281.20" y="920.58" font-size="12.6">340</text>
<text x="281.20" y="933.11" font-size="12.6">320</text>
</g>
</svg>
</body>
</html>
